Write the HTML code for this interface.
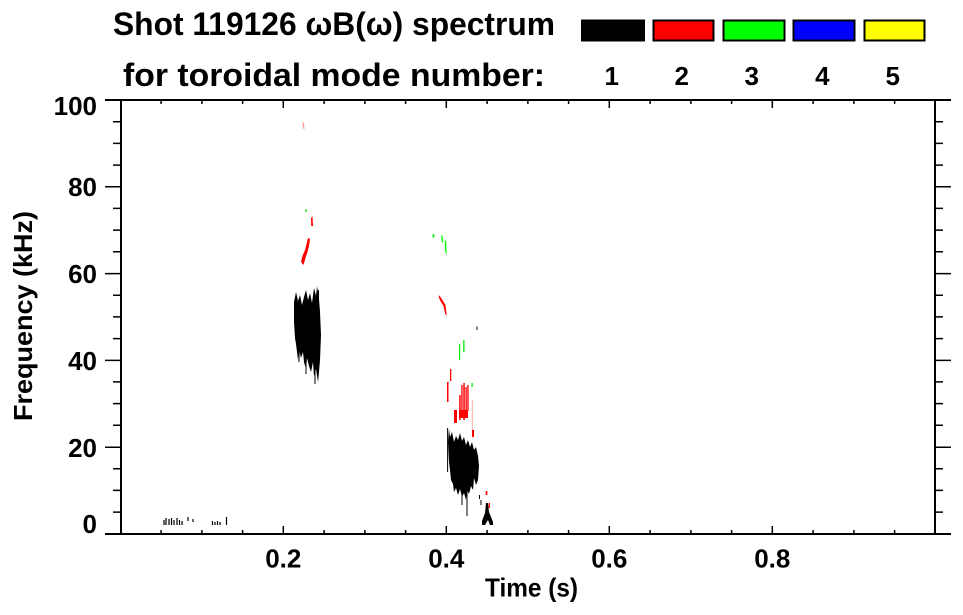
<!DOCTYPE html>
<html><head><meta charset="utf-8"><style>
html,body{margin:0;padding:0;background:#fff;}
svg{display:block;}
text{font-family:"Liberation Sans",Arial,sans-serif;font-weight:bold;fill:#000;}
</style></head><body>
<svg width="963" height="615" viewBox="0 0 963 615" xmlns="http://www.w3.org/2000/svg">
<rect width="963" height="615" fill="#fff"/>
<!-- Titles -->
<text x="113" y="35" font-size="32" textLength="442" lengthAdjust="spacingAndGlyphs">Shot 119126 ωB(ω) spectrum</text>
<text x="123" y="86" font-size="32" textLength="422" lengthAdjust="spacingAndGlyphs">for toroidal mode number:</text>
<!-- legend -->
<g stroke="#000" stroke-width="2">
<rect x="582" y="20.5" width="62" height="20" fill="#000"/>
<rect x="653.5" y="20.5" width="60" height="20" fill="#ff0000"/>
<rect x="723.5" y="20.5" width="61" height="20" fill="#00ff00"/>
<rect x="793.5" y="20.5" width="61" height="20" fill="#0000ff"/>
<rect x="864.5" y="20.5" width="60" height="20" fill="#ffff00"/>
</g>
<g font-size="26" text-anchor="middle">
<text x="611.7" y="85">1</text>
<text x="681.7" y="85">2</text>
<text x="751.7" y="85">3</text>
<text x="822.3" y="85">4</text>
<text x="892.7" y="85">5</text>
</g>
<!-- axes -->
<g stroke="#000" stroke-width="2" fill="none">
<line x1="105" y1="100" x2="951" y2="100"/>
<line x1="105" y1="534" x2="951" y2="534"/>
<line x1="121" y1="100" x2="121" y2="534"/>
<line x1="935" y1="100" x2="935" y2="534"/>
</g>
<g stroke="#000" stroke-width="1.5">
<path d="M113 121.7H121M113 143.4H121M113 165.1H121M113 208.4H121M113 230.1H121M113 251.8H121M113 295.2H121M113 316.9H121M113 338.6H121M113 381.9H121M113 403.6H121M113 425.3H121M113 468.7H121M113 490.4H121M113 512.1H121"/>
<path d="M105 186.8H121M105 273.6H121M105 360.4H121M105 447.2H121"/>
<path d="M935 121.7H943M935 143.4H943M935 165.1H943M935 208.4H943M935 230.1H943M935 251.8H943M935 295.2H943M935 316.9H943M935 338.6H943M935 381.9H943M935 403.6H943M935 425.3H943M935 468.7H943M935 490.4H943M935 512.1H943"/>
<path d="M935 186.8H951M935 273.6H951M935 360.4H951M935 447.2H951"/>
<path d="M161.1 534V530M201.9 534V530M242.6 534V530M324.1 534V530M364.9 534V530M405.6 534V530M487.1 534V530M527.9 534V530M568.6 534V530M650.1 534V530M690.9 534V530M731.6 534V530M813.1 534V530M853.9 534V530M894.6 534V530"/>
<path d="M283.3 534V526M446.3 534V526M609.3 534V526M772.3 534V526"/>
<path d="M161.1 100V104M201.9 100V104M242.6 100V104M324.1 100V104M364.9 100V104M405.6 100V104M487.1 100V104M527.9 100V104M568.6 100V104M650.1 100V104M690.9 100V104M731.6 100V104M813.1 100V104M853.9 100V104M894.6 100V104"/>
<path d="M283.3 100V108M446.3 100V108M609.3 100V108M772.3 100V108"/>
</g>
<!-- tick labels -->
<g font-size="26" text-anchor="end">
<text x="97" y="115">100</text>
<text x="97" y="196">80</text>
<text x="97" y="283">60</text>
<text x="97" y="370">40</text>
<text x="97" y="457">20</text>
<text x="97" y="533">0</text>
</g>
<g font-size="26" text-anchor="middle">
<text x="283.3" y="567.5">0.2</text>
<text x="446.3" y="567.5">0.4</text>
<text x="609.3" y="567.5">0.6</text>
<text x="772.3" y="567.5">0.8</text>
</g>
<text x="485" y="596.5" font-size="26" textLength="93" lengthAdjust="spacingAndGlyphs">Time (s)</text>
<text transform="translate(32,421) rotate(-90)" x="0" y="0" font-size="26" textLength="210" lengthAdjust="spacingAndGlyphs">Frequency (kHz)</text>

<!-- DATA -->
<polygon fill="#000" points="294,302 296,292 298,301 300,295 302,305 304,297 306,290 308,300 310,293 312,303 314,288 316,296 317,286 319,299 320,312 321,335 320,360 319,372 318,382 316,369 314,376 313,362 311,372 309,366 307,358 306,369 304,362 303,352 301,358 299,350 298,360 296,344 295,338 294,322"/>
<g stroke="#000" stroke-width="1">
<line x1="299" y1="340" x2="299" y2="362"/>
<line x1="315" y1="360" x2="315" y2="384"/>
<line x1="306" y1="355" x2="306" y2="374"/>
<line x1="318.5" y1="290" x2="318.5" y2="300"/>
</g>
<polygon fill="#ff0000" points="301,262 302.5,256 305,250 306.5,244 308,238 310,239 309,246 307.5,252 305.5,258 303.5,265"/>
<polygon fill="#ff0000" points="311,218 312.5,216.5 313,226 311.2,226"/>
<rect x="305.5" y="209" width="1.2" height="3" fill="#00dd00"/>
<polygon fill="#ff9999" points="302.5,122 304,123 304.5,130 303,128"/>

<rect x="432.7" y="234" width="1.6" height="3.5" fill="#00ff00"/>
<polygon fill="#00ff00" points="441,235 442.5,236 443.3,243 441.8,242"/>
<polygon fill="#00ff00" points="444.7,240 446.2,241 446.7,255 445.3,252"/>
<polygon fill="#ff0000" points="438.7,295 440.5,297 443,301 445.5,305 446.7,315.5 445.2,314 443.5,306 441,302 439,298"/>
<rect x="476.5" y="326.5" width="1" height="3.5" fill="#000"/>
<rect x="459" y="344" width="1.2" height="16" fill="#00ee00"/>
<rect x="463.2" y="340" width="1.3" height="12" fill="#00ee00"/>
<rect x="471.5" y="383" width="1.2" height="4" fill="#00ee00"/>
<rect x="450" y="369" width="1.3" height="12" fill="#ff0000"/>
<rect x="447" y="382" width="1.5" height="20" fill="#ff0000"/>
<rect x="454" y="410" width="3" height="13" fill="#ff0000"/>
<g fill="#ff0000">
<rect x="459.2" y="395" width="1.5" height="25"/>
<rect x="461.3" y="385" width="1.3" height="33"/>
<rect x="463.3" y="383" width="1.5" height="37"/>
<rect x="465.5" y="387" width="1.3" height="28"/>
<rect x="467.3" y="385" width="1.3" height="26"/>
<rect x="459" y="410" width="9" height="8"/>
<rect x="472" y="430" width="2" height="7"/>
<rect x="485.7" y="491" width="1.6" height="4"/>
<rect x="488.7" y="503" width="1.3" height="5"/>
</g>
<rect x="471.8" y="400" width="1" height="30" fill="#ffaaaa"/>
<polygon fill="#000" points="448,442 449,429 450,437 452,432 454,442 456,436 458,440 460,433 462,441 464,437 466,445 468,440 470,447 472,442 474,450 476,447 478,456 479,466 478,480 476,485 474,478 473,490 471,486 469,494 467,490 466,500 464,493 462,497 460,489 458,495 456,488 454,492 453,484 451,480 450,470 449,462"/>
<g stroke="#000" stroke-width="1">
<line x1="447.6" y1="428" x2="447.6" y2="472"/>
<line x1="467" y1="490" x2="467" y2="516"/>
<line x1="462" y1="494" x2="462" y2="505"/>
<line x1="479.5" y1="495" x2="479.5" y2="499"/>
<line x1="481" y1="500" x2="481" y2="505"/>
</g>
<polygon fill="#000" points="486,503 488,503 489,512 493,522 493,525 490,525 488,520 485,525 482,525 482,521 485,513"/>
<g stroke="#000" stroke-width="1.2">
<line x1="164" y1="520" x2="164" y2="525"/>
<line x1="166" y1="518" x2="166" y2="525"/>
<line x1="169" y1="519" x2="169" y2="525"/>
<line x1="171.5" y1="518" x2="171.5" y2="525"/>
<line x1="174" y1="520" x2="174" y2="525"/>
<line x1="177" y1="518" x2="177" y2="525"/>
<line x1="179.5" y1="520" x2="179.5" y2="525"/>
<line x1="182" y1="521" x2="182" y2="525"/>
<line x1="188" y1="517" x2="188" y2="521"/>
<line x1="193" y1="519" x2="193" y2="522"/>
<line x1="212.5" y1="521" x2="212.5" y2="525"/>
<line x1="215" y1="522" x2="215" y2="525"/>
<line x1="217.5" y1="521" x2="217.5" y2="525"/>
<line x1="220" y1="522" x2="220" y2="525"/>
<line x1="226.5" y1="517" x2="226.5" y2="525"/>
</g>
</svg>
</body></html>
